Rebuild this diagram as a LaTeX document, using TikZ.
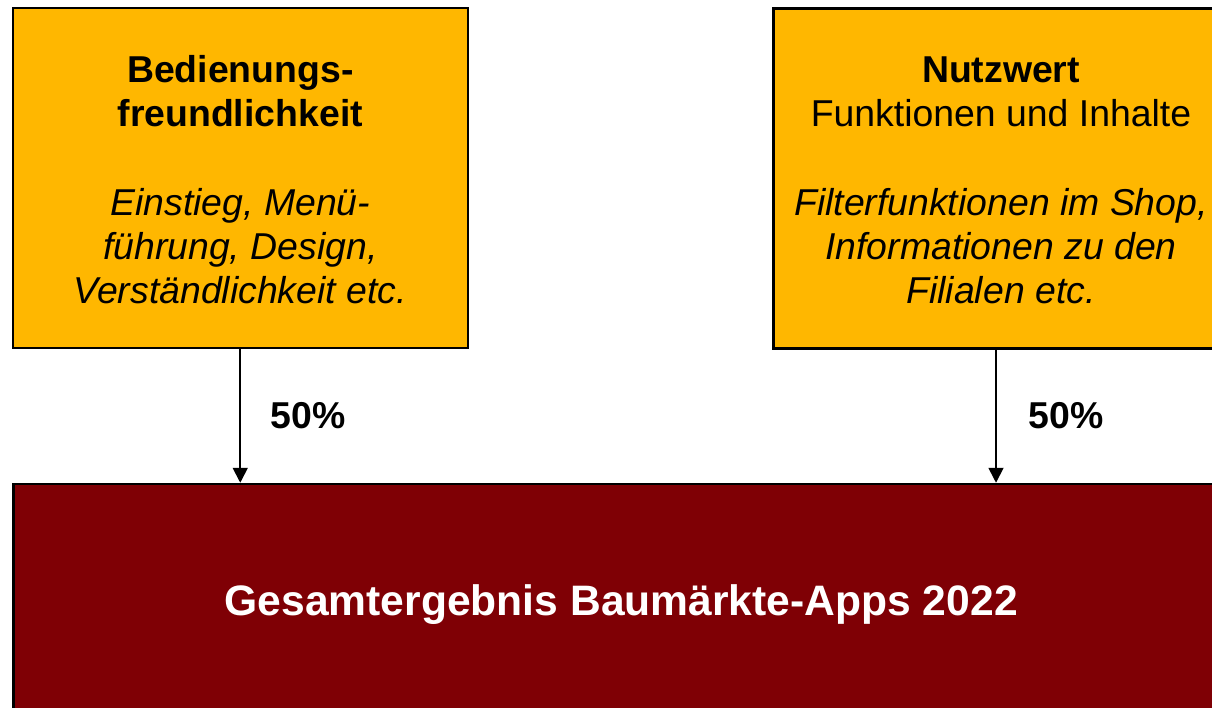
\documentclass[tikz,border=0pt]{standalone}
\usepackage{fontspec}
\setmainfont{Liberation Sans}
\usetikzlibrary{arrows.meta}
\definecolor{boxorange}{RGB}{255,183,0}
\definecolor{boxred}{RGB}{127,0,5}
\tikzset{
  topbox/.style={draw=black, line width=2.5pt, fill=boxorange, align=center,
    minimum width=455pt, minimum height=340pt, inner sep=0pt,
    font=\fontsize{37.4}{44}\selectfont},
  bottombox/.style={draw=black, line width=2.5pt, fill=boxred, text=white, align=center,
    minimum width=1215.5pt, minimum height=234pt, inner sep=0pt,
    font=\fontsize{42.6}{50}\selectfont\bfseries},
  conn/.style={line width=1.8pt, -{Triangle[width=15pt,length=15pt]}},
  pct/.style={font=\fontsize{37.4}{44}\selectfont\bfseries, inner sep=0pt}
}
\begin{document}
\begin{tikzpicture}[x=1pt,y=1pt]
  \useasboundingbox (0,0) rectangle (1212,-708);
  \clip (0,0) rectangle (1212,-708);
  \fill[white] (0,0) rectangle (1212,-708);
  \node[topbox] (L) at (240.25,-178) {\rule{0pt}{30pt}\textbf{Bedienungs-}\\\textbf{freundlichkeit}\\[45pt]\textit{Einstieg, Menü-}\\\textit{führung, Design,}\\\textit{Verständlichkeit etc.}};
  \node[topbox] (R) at (1001,-178.5) {\rule{0pt}{30pt}\textbf{Nutzwert}\\Funktionen und Inhalte\\[45pt]\textit{Filterfunktionen im Shop,}\\\textit{Informationen zu den}\\\textit{Filialen etc.}};
  \node[bottombox] (B) at (621.25,-601) {\rule{0pt}{38pt}Gesamtergebnis Baumärkte-Apps 2022};
  \draw[conn] (L.south) -- (L.south |- B.north);
  \draw[conn] ([xshift=-5pt]R.south) -- ([xshift=-5pt]R.south |- B.north);
  \node[pct] (p1) at (308,-416) {50\%};
  \node[pct] (p2) at (1066,-416) {50\%};
\end{tikzpicture}
\end{document}
